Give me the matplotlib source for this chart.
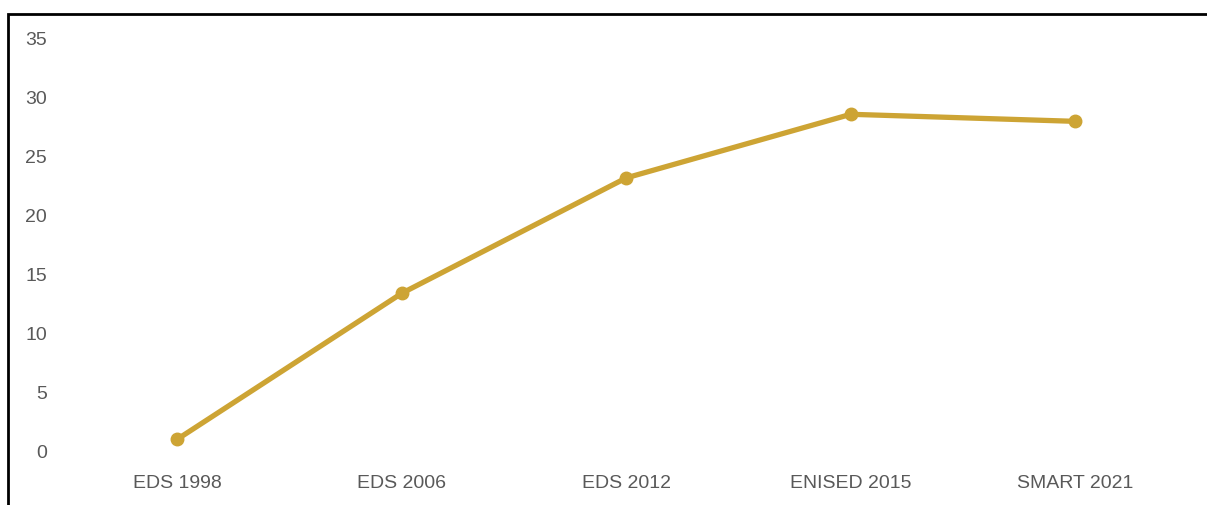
import matplotlib
matplotlib.use("Agg")
import matplotlib.pyplot as plt
from matplotlib.patches import Rectangle

categories = ["EDS 1998", "EDS 2006", "EDS 2012", "ENISED 2015", "SMART 2021"]
values = [1.0, 13.4, 23.2, 28.6, 28.0]
yticks = [0, 5, 10, 15, 20, 25, 30, 35]

line_color = "#CDA434"
text_color = "#595959"

plt.rcParams["font.family"] = ["Liberation Sans", "DejaVu Sans"]

fig = plt.figure(figsize=(12.07, 5.05), dpi=100)
ax = fig.add_axes([0.0539, 0.1069, 0.930, 0.816])

x = range(len(categories))
ax.plot(x, values, color=line_color, lw=3.8, marker="o", markersize=9,
        solid_capstyle="round")

ax.set_xlim(-0.5, len(categories) - 0.5)
ax.set_ylim(0, 35)
ax.set_xticks(list(x))
ax.set_xticklabels(categories)
ax.set_yticks(yticks)
ax.tick_params(length=0, labelsize=14, colors=text_color)
ax.tick_params(axis="y", pad=13)
ax.tick_params(axis="x", pad=17)
for s in ax.spines.values():
    s.set_visible(False)

# outer chart frame (top and left edges visible)
fig.patches.append(Rectangle((8 / 1207, -0.1), 1.2, (505 - 14) / 505 + 0.1,
                             transform=fig.transFigure, fill=False,
                             edgecolor="black", lw=2.0))

fig.savefig("out.png", dpi=100)
